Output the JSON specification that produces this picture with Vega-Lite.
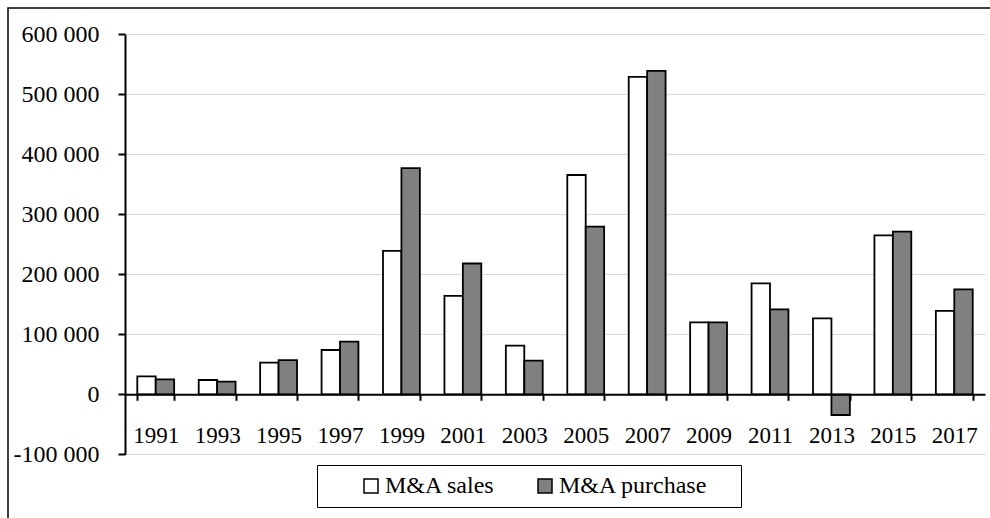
{
  "$schema": "https://vega.github.io/schema/vega-lite/v6.json",
  "width": 990,
  "height": 520,
  "autosize": {"type": "none"},
  "padding": {"left": 8, "top": 8, "right": 0, "bottom": 0},
  "background": "white",
  "data": {
    "values": [
      {"year": "1991", "series": "M&A sales", "value": 30000},
      {"year": "1991", "series": "M&A purchase", "value": 25000},
      {"year": "1993", "series": "M&A sales", "value": 23800},
      {"year": "1993", "series": "M&A purchase", "value": 21000},
      {"year": "1995", "series": "M&A sales", "value": 52700},
      {"year": "1995", "series": "M&A purchase", "value": 57000},
      {"year": "1997", "series": "M&A sales", "value": 73800},
      {"year": "1997", "series": "M&A purchase", "value": 87700},
      {"year": "1999", "series": "M&A sales", "value": 239000},
      {"year": "1999", "series": "M&A purchase", "value": 377000},
      {"year": "2001", "series": "M&A sales", "value": 164000},
      {"year": "2001", "series": "M&A purchase", "value": 218000},
      {"year": "2003", "series": "M&A sales", "value": 81000},
      {"year": "2003", "series": "M&A purchase", "value": 56000},
      {"year": "2005", "series": "M&A sales", "value": 365500},
      {"year": "2005", "series": "M&A purchase", "value": 279500},
      {"year": "2007", "series": "M&A sales", "value": 529000},
      {"year": "2007", "series": "M&A purchase", "value": 539000},
      {"year": "2009", "series": "M&A sales", "value": 120000},
      {"year": "2009", "series": "M&A purchase", "value": 120000},
      {"year": "2011", "series": "M&A sales", "value": 185000},
      {"year": "2011", "series": "M&A purchase", "value": 141500},
      {"year": "2013", "series": "M&A sales", "value": 126500},
      {"year": "2013", "series": "M&A purchase", "value": -34500},
      {"year": "2015", "series": "M&A sales", "value": 265000},
      {"year": "2015", "series": "M&A purchase", "value": 271000},
      {"year": "2017", "series": "M&A sales", "value": 139000},
      {"year": "2017", "series": "M&A purchase", "value": 175000}
    ]
  },
  "mark": {"type": "bar", "stroke": "black", "strokeWidth": 1.8},
  "encoding": {
    "x": {
      "field": "year",
      "type": "nominal",
      "scale": {"paddingInner": 0.4, "paddingOuter": 0.2, "range": [117, 977]},
      "axis": {
        "title": null,
        "offset": -133.7,
        "labelFont": "Liberation Serif, Times New Roman, serif",
        "labelFontSize": 23,
        "labelColor": "black",
        "labelAngle": 0,
        "labelPadding": 24,
        "tickColor": "black",
        "tickWidth": 2,
        "tickSize": 6,
        "tickBand": "extent",
        "domainColor": "black",
        "domainWidth": 2,
        "zindex": 1
      }
    },
    "xOffset": {
      "field": "series",
      "type": "nominal",
      "sort": ["M&A sales", "M&A purchase"],
      "scale": {"paddingInner": 0, "paddingOuter": 0}
    },
    "y": {
      "field": "value",
      "type": "quantitative",
      "scale": {"domain": [-100000, 600000], "nice": false, "range": [446.3, 26.3]},
      "axis": {
        "title": null,
        "offset": -117,
        "values": [-100000, 0, 100000, 200000, 300000, 400000, 500000, 600000],
        "labelExpr": "replace(replace(format(datum.value, ','), ',', ' '), '−', '-')",
        "labelFont": "Liberation Serif, Times New Roman, serif",
        "labelFontSize": 24,
        "labelColor": "black",
        "labelPadding": 19,
        "tickColor": "black",
        "tickWidth": 2,
        "tickSize": 7,
        "domainColor": "black",
        "domainWidth": 2,
        "gridColor": "#d9d9d9",
        "gridWidth": 1
      }
    },
    "color": {
      "field": "series",
      "type": "nominal",
      "sort": ["M&A sales", "M&A purchase"],
      "scale": {"domain": ["M&A sales", "M&A purchase"], "range": ["white", "#808080"]},
      "legend": {
        "orient": "none",
        "legendX": 309,
        "legendY": 457,
        "direction": "horizontal",
        "title": " ",
        "titleOrient": "right",
        "titlePadding": 24,
        "titleFontSize": 24,
        "titleFont": "Liberation Serif, Times New Roman, serif",
        "strokeColor": "black",
        "padding": 9,
        "labelFont": "Liberation Serif, Times New Roman, serif",
        "labelFontSize": 24,
        "labelColor": "black",
        "symbolType": "square",
        "symbolSize": 196,
        "symbolStrokeColor": "black",
        "symbolStrokeWidth": 1.5,
        "symbolOpacity": 1,
        "symbolOffset": 33,
        "labelOffset": 2,
        "columnPadding": 5
      }
    }
  },
  "config": {"view": {"stroke": "black", "strokeWidth": 1.5}, "font": "Liberation Serif, Times New Roman, serif"}
}
